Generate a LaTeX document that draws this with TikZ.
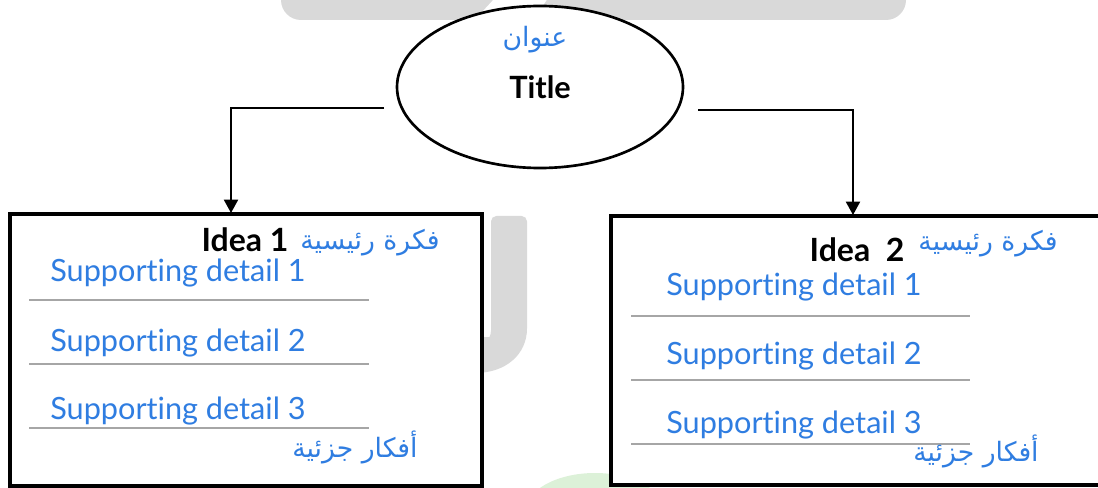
\documentclass[tikz,border=0pt]{standalone}
\usepackage{fontspec}
\setmainfont{Lato}[Ligatures={NoCommon}]
\newfontfamily\arabicfont[Script=Arabic]{DejaVu Sans}
\TeXXeTstate=1
\usetikzlibrary{shapes.geometric,arrows.meta}
\definecolor{inkblue}{RGB}{47,125,225}
\definecolor{rulegray}{RGB}{166,166,166}
\definecolor{backgray}{RGB}{217,217,217}
\definecolor{leaf}{RGB}{196,232,190}
\begin{document}
\begin{tikzpicture}[x=0.75pt,y=-0.75pt,
  frame/.style={draw=black,line width=2.5pt,fill=white,inner sep=0pt,outer sep=0pt,anchor=north west},
  oval/.style={ellipse,draw=black,line width=2pt,fill=white,inner sep=0pt,minimum width=214.5pt,minimum height=121.5pt},
  detail/.style={text=inkblue,font=\fontsize{23}{26}\selectfont,anchor=west,inner sep=0pt},
  idea/.style={font=\bfseries\fontsize{24}{28}\selectfont,inner sep=0pt},
  arab/.style={text=inkblue,font=\arabicfont\fontsize{20}{24}\selectfont,inner sep=0pt},
  rule/.style={draw=rulegray,line width=1.5pt},
  link/.style={draw=black,line width=1.5pt,-{Triangle[length=10pt,width=10.5pt]}}]
\useasboundingbox (0,0) rectangle (1098,488);

% soft background shapes
\fill[backgray,rounded corners=15] (281,-30) rectangle (906,20);
\fill[white] (495,-2) -- (548,-2) -- (530,25) -- (470,25) -- cycle;
\fill[backgray,rounded corners=4] (470,373) -- (470,337) -- (484,337)
  .. controls (490,337) and (491,333) .. (491,325) -- (491,216) -- (527,216) -- (527,323)
  .. controls (527,355) and (505,373) .. (470,373) -- cycle;
\fill[leaf,opacity=0.6] (595,512) ellipse [x radius=70,y radius=39];

% title oval
\node[oval] (title) at (540,87) {};
\node[arab] (titlear) at (535,40) {\beginR عنوان\endR};
\node[font=\bfseries\fontsize{23}{26}\selectfont,inner sep=0pt] (titleen) at (540,87) {Title};

% idea boxes
\node[frame,minimum width=354pt,minimum height=204pt] (box1) at (10,214) {};
\node[frame,minimum width=390pt,minimum height=201.75pt] (box2) at (611,216) {};

% box 1 contents
\node[idea] (idea1) at (245,240) {Idea 1};
\node[arab] (main1) at (370,243) {\beginR فكرة رئيسية\endR};
\node[detail] (d11) at (50,273) {Supporting detail 1};
\node[detail] (d12) at (50,343) {Supporting detail 2};
\node[detail] (d13) at (50,411) {Supporting detail 3};
\draw[rule] (29,300) -- (369,300);
\draw[rule] (29,364) -- (369,364);
\draw[rule] (29,428) -- (369,428);
\node[arab] (sub1) at (355,447) {\beginR أفكار جزئية\endR};

% box 2 contents
\node[idea] (idea2) at (857,250) {Idea\ \ 2};
\node[arab] (main2) at (988,244) {\beginR فكرة رئيسية\endR};
\node[detail] (d21) at (666,287) {Supporting detail 1};
\node[detail] (d22) at (666,356) {Supporting detail 2};
\node[detail] (d23) at (666,425) {Supporting detail 3};
\draw[rule] (631,316) -- (970,316);
\draw[rule] (631,380) -- (970,380);
\draw[rule] (631,444) -- (970,444);
\node[arab] (sub2) at (976,451) {\beginR أفكار جزئية\endR};

% connectors from the title to the boxes
\coordinate (s1) at (384,108);
\coordinate (e1) at (231,213);
\coordinate (s2) at (698,110);
\coordinate (e2) at (853,215);
\draw[link] (s1) -| (e1);
\draw[link] (s2) -| (e2);
\end{tikzpicture}
\end{document}
